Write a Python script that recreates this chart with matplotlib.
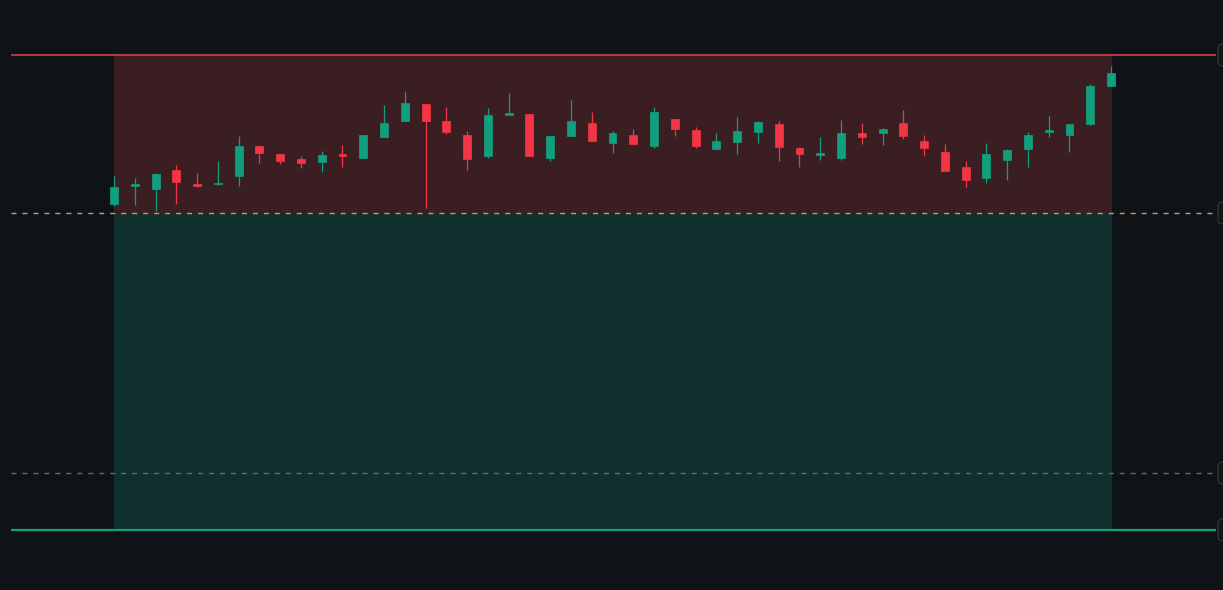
import numpy as np
import matplotlib.pyplot as plt
from matplotlib.patches import Rectangle

# candle data (open, high, low, close)
opens = [100.18, 100.55, 100.49, 100.87, 100.58, 100.58, 100.74, 101.34, 101.19, 101.09,
         101.03, 101.18, 101.11, 101.52, 101.85, 102.18, 101.84, 101.56, 101.15, 101.97,
         101.98, 101.11, 101.55, 101.79, 101.41, 101.57, 101.35, 101.89, 101.66, 101.29,
         101.43, 101.62, 101.78, 101.30, 101.17, 101.11, 101.59, 101.60, 101.81, 101.43,
         101.22, 100.92, 100.71, 101.07, 101.29, 101.63, 101.57, 101.79, 102.55]
highs = [100.74, 100.70, 100.80, 100.96, 100.80, 101.04, 101.55, 101.34, 101.19, 101.14,
         101.24, 101.37, 101.57, 102.17, 102.44, 102.18, 102.13, 101.65, 102.10, 102.40,
         101.98, 101.54, 102.27, 102.02, 101.64, 101.68, 102.12, 101.89, 101.72, 101.61,
         101.92, 101.85, 101.85, 101.33, 101.52, 101.86, 101.80, 101.70, 102.06, 101.56,
         101.38, 101.04, 101.40, 101.29, 101.62, 101.94, 101.78, 102.59, 102.94]
lows = [100.15, 100.17, 100.04, 100.19, 100.53, 100.57, 100.55, 101.01, 100.99, 100.91,
        100.83, 100.93, 101.11, 101.52, 101.85, 100.11, 101.59, 100.87, 101.11, 101.97,
        101.15, 101.05, 101.55, 101.45, 101.21, 101.39, 101.31, 101.55, 101.31, 101.29,
        101.19, 101.41, 101.05, 100.92, 101.07, 101.07, 101.39, 101.37, 101.49, 101.15,
        100.85, 100.53, 100.61, 100.67, 100.93, 101.53, 101.23, 101.77, 102.55]
closes = [100.52, 100.57, 100.79, 100.63, 100.54, 100.61, 101.35, 101.21, 101.05, 101.01,
          101.16, 101.14, 101.57, 101.80, 102.21, 101.85, 101.63, 101.08, 101.97, 102.01,
          101.15, 101.54, 101.84, 101.45, 101.60, 101.39, 102.03, 101.69, 101.35, 101.44,
          101.64, 101.82, 101.33, 101.19, 101.20, 101.61, 101.53, 101.69, 101.55, 101.31,
          100.85, 100.67, 101.18, 101.26, 101.57, 101.66, 101.78, 102.55, 102.81]

# short position levels
stop_price = 103.16
entry_price = 100.00
mid_price = 94.80
target_price = 93.66

# colours
bg = '#0f1317'
up_col = '#11a07d'
down_col = '#f23645'

fig = plt.figure(figsize=(12.23, 5.90), dpi=100, facecolor=bg)
ax = fig.add_axes([0, 0, 1, 1])
ax.set_facecolor(bg)

n = len(opens)
x = np.arange(n)

# risk / reward zones
zone_w = n - 1 + 0.05
ax.add_patch(Rectangle((0, entry_price), zone_w, stop_price - entry_price,
                       facecolor='#3a1e22', edgecolor='none', zorder=1))
ax.add_patch(Rectangle((0, target_price), zone_w, entry_price - target_price,
                       facecolor='#10302d', edgecolor='none', zorder=1))

# level lines
x_left, x_right = -4.96, 53.06
ax.hlines(stop_price, x_left, x_right, color='#c9434b', lw=1.2, zorder=2)
ax.hlines(target_price, x_left, x_right, color='#10a07f', lw=1.6, zorder=2)
ax.hlines(entry_price, x_left, x_right, color='#c8a43c', lw=1.0,
          linestyles=(0, (3.6, 4.3)), zorder=2)
ax.hlines(mid_price, x_left, x_right, color='#566e8f', lw=1.0,
          linestyles=(0, (3.6, 4.3)), zorder=2)

# candles
body_w = 0.38
for i in range(n):
    o, h, l, c = opens[i], highs[i], lows[i], closes[i]
    col = up_col if c >= o else down_col
    ax.vlines(x[i], l, h, color=col, lw=0.9, zorder=3)
    bottom = min(o, c)
    height = max(abs(c - o), 0.025)
    ax.add_patch(Rectangle((x[i] - body_w / 2, bottom), body_w, height,
                           facecolor=col, edgecolor=col, lw=0.5, zorder=4))

# price label boxes cut off at the right edge
for lvl in [stop_price, entry_price, mid_price, target_price]:
    ax.text(53.36, lvl, '          ', fontsize=9, va='center', ha='left',
            bbox=dict(boxstyle='round,pad=0.35', fc='#121619', ec='#2e3237', lw=1.0),
            zorder=5, clip_on=False)

ax.set_xlim(-5.489, 53.39)
ax.set_ylim(92.46, 104.26)
ax.axis('off')

plt.savefig('out.png', dpi=100, facecolor=bg)
